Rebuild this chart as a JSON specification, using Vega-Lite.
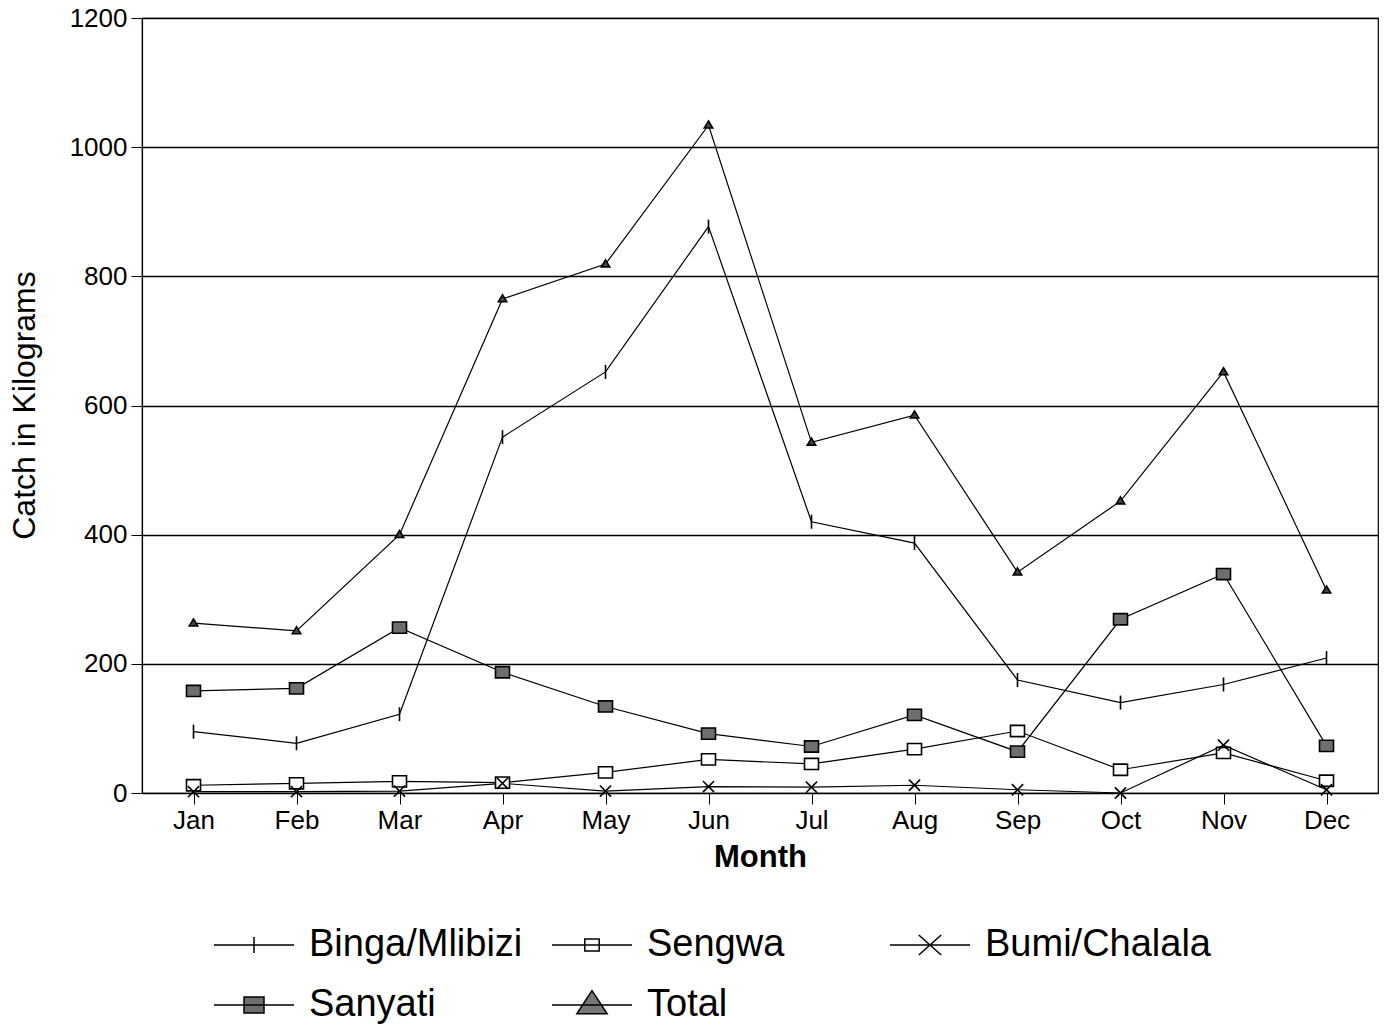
{
  "$schema": "https://vega.github.io/schema/vega-lite/v6.json",
  "width": 1236,
  "height": 775,
  "autosize": "none",
  "padding": {"left": 142, "top": 18, "right": 10, "bottom": 232},
  "background": "white",
  "config": {
    "font": "Liberation Sans",
    "view": {"stroke": "black", "strokeWidth": 1.2},
    "axis": {"labelColor": "black", "titleColor": "black", "domainColor": "black", "tickColor": "black", "gridColor": "black", "labelFont": "Liberation Sans", "titleFont": "Liberation Sans"}
  },
  "data": {"values": [
    {"month": "Jan", "series": "Binga/Mlibizi", "value": 95},
    {"month": "Feb", "series": "Binga/Mlibizi", "value": 77},
    {"month": "Mar", "series": "Binga/Mlibizi", "value": 122},
    {"month": "Apr", "series": "Binga/Mlibizi", "value": 551},
    {"month": "May", "series": "Binga/Mlibizi", "value": 652},
    {"month": "Jun", "series": "Binga/Mlibizi", "value": 877},
    {"month": "Jul", "series": "Binga/Mlibizi", "value": 420},
    {"month": "Aug", "series": "Binga/Mlibizi", "value": 387},
    {"month": "Sep", "series": "Binga/Mlibizi", "value": 175},
    {"month": "Oct", "series": "Binga/Mlibizi", "value": 140},
    {"month": "Nov", "series": "Binga/Mlibizi", "value": 168},
    {"month": "Dec", "series": "Binga/Mlibizi", "value": 209},
    {"month": "Jan", "series": "Sengwa", "value": 12},
    {"month": "Feb", "series": "Sengwa", "value": 15},
    {"month": "Mar", "series": "Sengwa", "value": 18},
    {"month": "Apr", "series": "Sengwa", "value": 16},
    {"month": "May", "series": "Sengwa", "value": 32},
    {"month": "Jun", "series": "Sengwa", "value": 52},
    {"month": "Jul", "series": "Sengwa", "value": 45},
    {"month": "Aug", "series": "Sengwa", "value": 68},
    {"month": "Sep", "series": "Sengwa", "value": 96},
    {"month": "Oct", "series": "Sengwa", "value": 36},
    {"month": "Nov", "series": "Sengwa", "value": 62},
    {"month": "Dec", "series": "Sengwa", "value": 19},
    {"month": "Jan", "series": "Bumi/Chalala", "value": 2},
    {"month": "Feb", "series": "Bumi/Chalala", "value": 2},
    {"month": "Mar", "series": "Bumi/Chalala", "value": 3},
    {"month": "Apr", "series": "Bumi/Chalala", "value": 15},
    {"month": "May", "series": "Bumi/Chalala", "value": 3},
    {"month": "Jun", "series": "Bumi/Chalala", "value": 10},
    {"month": "Jul", "series": "Bumi/Chalala", "value": 9},
    {"month": "Aug", "series": "Bumi/Chalala", "value": 12},
    {"month": "Sep", "series": "Bumi/Chalala", "value": 5},
    {"month": "Oct", "series": "Bumi/Chalala", "value": 0},
    {"month": "Nov", "series": "Bumi/Chalala", "value": 74},
    {"month": "Dec", "series": "Bumi/Chalala", "value": 5},
    {"month": "Jan", "series": "Sanyati", "value": 158},
    {"month": "Feb", "series": "Sanyati", "value": 162},
    {"month": "Mar", "series": "Sanyati", "value": 256},
    {"month": "Apr", "series": "Sanyati", "value": 187},
    {"month": "May", "series": "Sanyati", "value": 134},
    {"month": "Jun", "series": "Sanyati", "value": 92},
    {"month": "Jul", "series": "Sanyati", "value": 72},
    {"month": "Aug", "series": "Sanyati", "value": 121},
    {"month": "Sep", "series": "Sanyati", "value": 64},
    {"month": "Oct", "series": "Sanyati", "value": 269},
    {"month": "Nov", "series": "Sanyati", "value": 339},
    {"month": "Dec", "series": "Sanyati", "value": 73},
    {"month": "Jan", "series": "Total", "value": 263},
    {"month": "Feb", "series": "Total", "value": 251},
    {"month": "Mar", "series": "Total", "value": 400},
    {"month": "Apr", "series": "Total", "value": 765},
    {"month": "May", "series": "Total", "value": 819},
    {"month": "Jun", "series": "Total", "value": 1034},
    {"month": "Jul", "series": "Total", "value": 543},
    {"month": "Aug", "series": "Total", "value": 585},
    {"month": "Sep", "series": "Total", "value": 342},
    {"month": "Oct", "series": "Total", "value": 452},
    {"month": "Nov", "series": "Total", "value": 652},
    {"month": "Dec", "series": "Total", "value": 314}
  ]},
  "encoding": {
    "x": {
      "field": "month", "type": "ordinal",
      "sort": ["Jan","Feb","Mar","Apr","May","Jun","Jul","Aug","Sep","Oct","Nov","Dec"],
      "scale": {"type": "point", "padding": 0.5},
      "axis": {"title": "Month", "labelAngle": 0, "labelFontSize": 26, "tickSize": 11, "labelPadding": 3, "titleFontSize": 31, "titleFontWeight": "bold", "titlePadding": 9, "grid": false, "domainWidth": 1.2}
    },
    "y": {
      "field": "value", "type": "quantitative",
      "scale": {"domain": [0, 1200], "nice": false},
      "axis": {"title": "Catch in Kilograms", "format": "d", "values": [0,200,400,600,800,1000,1200], "labelFontSize": 26, "tickSize": 11, "labelPadding": 4, "titleFontSize": 32, "titleFontWeight": "normal", "titleX": -118, "titleY": 387, "titleAlign": "center", "titleBaseline": "middle", "grid": true, "gridWidth": 1.3, "domainWidth": 1.2}
    }
  },
  "layer": [
    {
      "mark": {"type": "line", "color": "black", "strokeWidth": 1.2},
      "encoding": {"detail": {"field": "series"}}
    },
    {
      "mark": {"type": "point", "stroke": "black", "strokeWidth": 1.6, "size": 196, "opacity": 1},
      "encoding": {
        "shape": {"field": "series", "type": "nominal", "legend": null,
          "scale": {"domain": ["Binga/Mlibizi","Sengwa","Bumi/Chalala","Sanyati","Total"],
            "range": ["M0,-1V1", "M-1,-0.8H1V0.8H-1Z", "M-0.8,-0.8L0.8,0.8M-0.8,0.8L0.8,-0.8", "M-1,-0.8H1V0.8H-1Z", "M0,-0.6L0.6,0.4H-0.6Z"]}},
        "fill": {"field": "series", "type": "nominal", "legend": null,
          "scale": {"domain": ["Binga/Mlibizi","Sengwa","Bumi/Chalala","Sanyati","Total"],
            "range": ["white", "white", "white", "#6e6e6e", "#444444"]}}
      }
    },
    {
      "transform": [{"filter": "datum.value < -100"}],
      "mark": {"type": "point", "stroke": "black", "strokeWidth": 1.5, "size": 6400, "opacity": 1},
      "encoding": {
        "shape": {"field": "series", "type": "nominal",
          "scale": {"domain": ["Binga/Mlibizi","Sengwa","Bumi/Chalala","Sanyati","Total"],
            "range": ["M-1,0H1M0,-0.2V0.2", "M-1,0H1M-0.18,-0.15H0.18V0.15H-0.18Z", "M-1,0H1M-0.28,-0.25L0.28,0.25M-0.28,0.25L0.28,-0.25", "M-1,0H1M-0.25,-0.2H0.25V0.2H-0.25Z", "M-1,0H1M0,-0.36L0.38,0.22H-0.38Z"]},
          "legend": {"title": null, "orient": "none", "direction": "horizontal", "legendX": 71, "legendY": 886, "columns": 3, "gridAlign": "all", "columnPadding": 14, "rowPadding": -21, "symbolSize": 6400, "symbolStrokeColor": "black", "symbolStrokeWidth": 1.5, "labelFontSize": 38, "labelFont": "Liberation Sans", "labelColor": "black", "labelOffset": 14, "labelLimit": 400, "symbolOpacity": 1,
            "encode": {"symbols": {"update": {"stroke": {"value": "black"}, "strokeWidth": {"value": 1.5}, "opacity": {"value": 1}}}}}},
        "fill": {"field": "series", "type": "nominal",
          "scale": {"domain": ["Binga/Mlibizi","Sengwa","Bumi/Chalala","Sanyati","Total"],
            "range": ["white", "white", "white", "#6e6e6e", "#777777"]},
          "legend": {"title": null, "orient": "none", "direction": "horizontal", "legendX": 71, "legendY": 886, "columns": 3, "gridAlign": "all", "columnPadding": 14, "rowPadding": -21, "symbolSize": 6400, "symbolStrokeColor": "black", "symbolStrokeWidth": 1.5, "labelFontSize": 38, "labelFont": "Liberation Sans", "labelColor": "black", "labelOffset": 14, "labelLimit": 400, "symbolOpacity": 1,
            "encode": {"symbols": {"update": {"stroke": {"value": "black"}, "strokeWidth": {"value": 1.5}, "opacity": {"value": 1}}}}}}
      }
    }
  ],
  "resolve": {"scale": {"shape": "independent", "fill": "independent"}, "legend": {"shape": "independent", "fill": "independent"}}
}
